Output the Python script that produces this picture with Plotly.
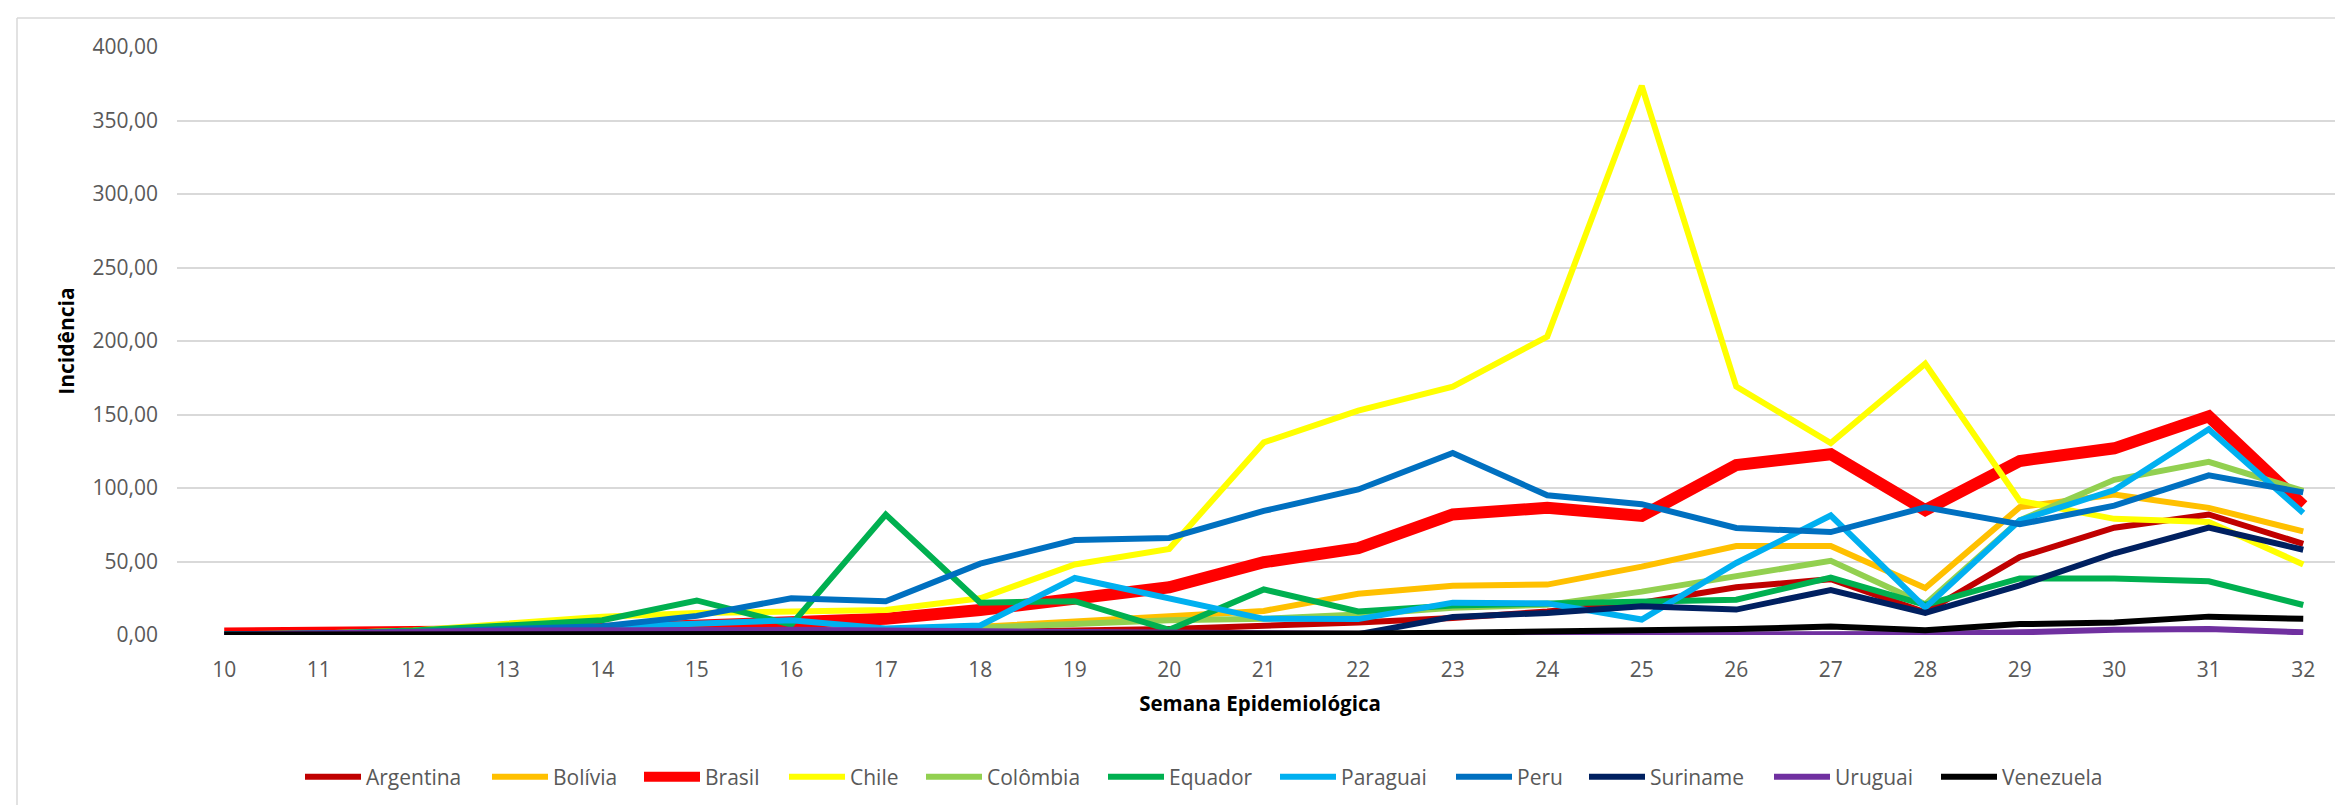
import plotly.graph_objects as go

weeks = list(range(10, 33))
week_labels = [str(w) for w in weeks]

argentina = [0.2, 0.3, 0.5, 1, 1, 1.5, 2, 2, 2.5, 3, 4, 6, 8.5, 11.5, 16, 22, 32.5, 38, 15.5, 53, 73, 82, 62]
bolivia = [0, 0.2, 0.5, 1, 1.5, 2, 2.5, 3, 5.6, 9.5, 12.5, 16.4, 28, 33.5, 34.3, 46.5, 60.5, 60.5, 32, 87, 95.6, 86.5, 70.5]
brasil = [1, 1, 1.5, 2.5, 4, 6, 9, 11, 17, 24, 32.5, 49.5, 59, 82, 86.5, 81, 115.6, 123, 85, 118.4, 127, 148.7, 88]
chile = [0.5, 1, 3, 8, 12.5, 15, 16, 17, 25, 48, 58.6, 131, 152.6, 169, 203, 373.6, 169, 130.5, 184.5, 91.3, 79, 76.8, 48]
colombia = [0, 0.2, 0.5, 1, 1.5, 2, 2.5, 3, 5, 7.4, 10, 11, 14, 18.5, 20.5, 29.5, 40.5, 50.5, 21, 78, 105.6, 117.8, 98]
equador = [0.5, 1, 3, 7, 10, 23.5, 7, 82, 22, 23, 3.5, 31, 16, 20, 21.5, 23, 24, 39, 20.5, 38.5, 38.5, 36.5, 20.4]
paraguai = [0, 0.3, 1, 3, 5, 8, 10, 4.5, 6.5, 38.8, 25.3, 11, 10.8, 22, 21.5, 10.5, 49, 81.3, 18.6, 78, 98.6, 140, 83]
peru = [0.5, 1, 2, 4, 6, 13, 25, 23, 48.5, 64.6, 66, 84.4, 99, 123.8, 95, 89, 72.8, 70, 86.8, 75.3, 88, 108.6, 97]
suriname = [0, 0, 0, 0, 0, 0, 0, 0, 0, 0, 0, 0, 0.5, 12.3, 15, 19.5, 17.3, 30.6, 15, 33.7, 55.6, 73, 58]
uruguai = [0, 0.5, 2, 3, 3.5, 3.5, 3.5, 3, 2.5, 1.5, 1, 0.8, 0.5, 0.3, 0.2, 0.3, 0.7, 1.5, 0.7, 1.8, 3.5, 4, 1.8]
venezuela = [0.3, 0.3, 0.3, 0.5, 0.5, 0.5, 0.5, 0.8, 0.8, 1, 1, 1, 1, 1.5, 2, 2.5, 4, 5.7, 3.3, 7.4, 8.5, 12.5, 11]

y_tick_vals = [0, 50, 100, 150, 200, 250, 300, 350, 400]
y_tick_text = ["0,00", "50,00", "100,00", "150,00", "200,00", "250,00", "300,00", "350,00", "400,00"]

series = [
    ("Argentina", argentina, "#C00000", 6),
    ("Bolívia", bolivia, "#FFC000", 6),
    ("Brasil", brasil, "#FF0000", 12),
    ("Chile", chile, "#FFFF00", 6),
    ("Colômbia", colombia, "#92D050", 6),
    ("Equador", equador, "#00B050", 6),
    ("Paraguai", paraguai, "#00B0F0", 6),
    ("Peru", peru, "#0070C0", 6),
    ("Suriname", suriname, "#002060", 6),
    ("Uruguai", uruguai, "#7030A0", 6),
    ("Venezuela", venezuela, "#000000", 6),
]

# page pixel x where each legend entry's line starts (layout only)
legend_entry_px = [305, 492, 644, 789, 926, 1108, 1280, 1456, 1589, 1774, 1941]

BODY = 8  # browser default body margin
W, H = 2343 - BODY, 805 - BODY
ML, MR, MT = 177 - BODY, 0, 47 - BODY
PLOT_BOTTOM = 635 - BODY
MB = H - PLOT_BOTTOM
PW, PH = W - ML - MR, H - MT - MB

font_family = "Open Sans"

fig = go.Figure()
layout_legends = {}
legend_y = (PLOT_BOTTOM - (777 - BODY)) / PH
for i, (name, vals, color, width) in enumerate(series):
    lname = "legend" if i == 0 else f"legend{i + 1}"
    fig.add_trace(go.Scatter(
        x=weeks, y=vals, name=name, mode="lines",
        line=dict(color=color, width=width),
        legend=lname,
    ))
    layout_legends[lname] = dict(
        orientation="h",
        x=(legend_entry_px[i] - BODY - ML - 5) / PW, xanchor="left",
        y=legend_y, yanchor="middle",
        font=dict(family=font_family, size=21, color="#595959"),
        itemwidth=56, bgcolor="rgba(0,0,0,0)", borderwidth=0,
    )

fig.update_layout(
    width=W, height=H,
    margin=dict(l=ML, r=MR, t=MT, b=MB, pad=0),
    paper_bgcolor="white", plot_bgcolor="white",
    font=dict(family=font_family, size=21, color="#595959"),
    showlegend=True,
    xaxis=dict(
        range=[9.5, 9.5 + PW / 94.5],
        tickmode="array", tickvals=weeks, ticktext=week_labels,
        showgrid=False, zeroline=False, showline=False, ticks="",
        ticklabelstandoff=20,
        tickfont=dict(family=font_family, size=21, color="#595959"),
        title=dict(text="<b>Semana Epidemiológica</b>", standoff=14,
                   font=dict(family=font_family, size=20.5, color="#000000")),
    ),
    yaxis=dict(
        range=[0, 400],
        tickmode="array", tickvals=y_tick_vals, ticktext=y_tick_text,
        showgrid=True, gridcolor="#D9D9D9", gridwidth=1.5,
        zeroline=False, showline=False, ticks="",
        ticklabelstandoff=18,
        tickfont=dict(family=font_family, size=21, color="#595959"),
        title=dict(text="<b>Incidência</b>", standoff=12,
                   font=dict(family=font_family, size=21, color="#000000")),
    ),
    **layout_legends,
)

# outer chart-area border (top and left edges visible)
bx0 = (17 - BODY - ML) / PW
by0 = (PLOT_BOTTOM - (18 - BODY)) / PH
fig.add_shape(type="line", xref="paper", yref="paper",
              x0=bx0, y0=by0, x1=1.01, y1=by0,
              line=dict(color="#D9D9D9", width=1.5), layer="below")
fig.add_shape(type="line", xref="paper", yref="paper",
              x0=bx0, y0=by0, x1=bx0, y1=-(MB + 5) / PH,
              line=dict(color="#D9D9D9", width=1.5), layer="below")

fig.write_html("out.html")
